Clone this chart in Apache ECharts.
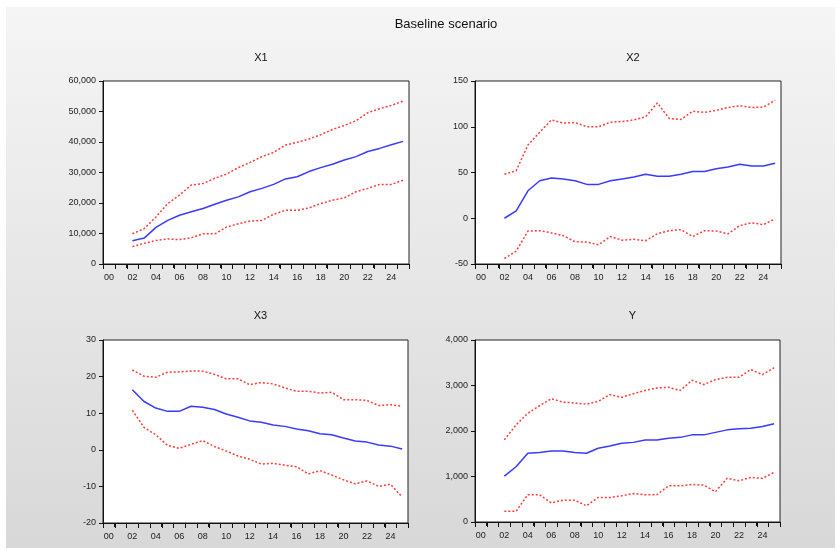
<!DOCTYPE html>
<html>
<head>
<meta charset="utf-8">
<script src="https://cdn.jsdelivr.net/npm/echarts@6/dist/echarts.min.js"></script>
<style>
html,body{margin:0;padding:0;background:#fff}
#wrap{position:relative;width:837px;height:549px}
#bg{position:absolute;left:6px;top:7px;width:829px;height:541px;background:linear-gradient(to bottom,#f5f5f5,#d8d8d8)}
#c{position:absolute;left:0;top:0;width:837px;height:549px}
</style>
</head>
<body>
<div id="wrap"><div id="bg"></div><div id="c"></div></div>
<script>
// Categories (years 2000-2025)
const years = ['00','01','02','03','04','05','06','07','08','09','10','11','12','13','14','15','16','17','18','19','20','21','22','23','24','25'];
const startIndex = 2; // data start at 02

// X1
const x1Mid   = [7600,8500,12000,14300,16000,17100,18200,19600,20900,22000,23700,24800,26100,27900,28600,30300,31600,32700,34100,35200,36900,37900,39100,40200];
const x1Upper = [9900,11600,15400,19800,22600,25900,26400,28100,29500,31600,33300,35200,36600,39000,39900,41000,42400,44100,45400,47000,49600,50900,52000,53400];
const x1Lower = [5700,6800,7700,8200,8000,8600,9900,9900,12100,13200,14100,14300,16300,17600,17600,18400,19800,20900,21700,23700,24800,26100,26100,27500];

// X2
const x2Mid   = [0,8,30,41,44,43,41,37,37,41,43,45,48,46,46,48,51,51,54,56,59,57,57,60];
const x2Upper = [48,52,80,94,107.5,104,104.6,100,100,105,105.7,107.5,111,126,109,108,117,115.6,118,121,123,121,121.5,129];
const x2Lower = [-44,-36,-14,-13.6,-16,-19,-25.7,-26,-29,-20,-24,-23,-24.6,-17,-13.6,-12.5,-20,-13.6,-14,-17,-8,-5,-7,-0.7];

// X3
const x3Mid   = [16.4,13.2,11.4,10.5,10.5,11.9,11.6,11.0,9.8,8.9,7.9,7.5,6.8,6.4,5.7,5.2,4.4,4.1,3.2,2.4,2.1,1.3,1.0,0.2];
const x3Upper = [21.8,20.1,19.8,21.2,21.3,21.5,21.5,20.6,19.4,19.4,17.8,18.4,18.0,16.9,16.0,16.0,15.5,15.7,13.7,13.7,13.5,12.1,12.3,11.9];
const x3Lower = [10.8,6.1,4.1,1.2,0.4,1.5,2.5,0.9,-0.3,-1.7,-2.6,-3.9,-3.7,-4.2,-4.6,-6.6,-5.7,-6.9,-8.2,-9.3,-8.5,-10.0,-9.4,-12.9];

// Y
const yMid   = [1009,1215,1510,1530,1560,1560,1530,1510,1620,1670,1730,1750,1800,1800,1840,1860,1915,1915,1970,2025,2050,2060,2100,2160];
const yUpper = [1805,2135,2390,2555,2710,2635,2615,2590,2650,2800,2740,2820,2890,2945,2960,2890,3115,3020,3130,3180,3180,3350,3240,3390];
const yLower = [235,235,600,600,420,480,480,355,540,540,575,625,600,600,795,795,825,810,665,960,905,980,960,1090];

const panelTitles = ['X1','X2','X3','Y'];
const yRanges = [[0,60000,10000],[-50,150,50],[-20,30,10],[0,4000,1000]];
const panelData = [[x1Mid,x1Upper,x1Lower],[x2Mid,x2Upper,x2Lower],[x3Mid,x3Upper,x3Lower],[yMid,yUpper,yLower]];

const grids = [
  {left:103, top:81, width:306, height:183},
  {left:475, top:81, width:306, height:183},
  {left:103, top:340, width:305, height:183},
  {left:475, top:340, width:305, height:182}
];

const font = 'Arial, "Liberation Sans", sans-serif';
const toPairs = arr => arr.map((v,i)=>[years[i+startIndex], v]);

const option = {
  backgroundColor:'transparent',
  animation:false,
  title:[{text:'Baseline scenario', left:441, top:13, textAlign:'center',
          textStyle:{fontSize:13, fontWeight:'normal', color:'#111', fontFamily:font}}]
    .concat(panelTitles.map((t,i)=>({
      text:t, left:grids[i].left+grids[i].width/2, top:(i<2?47:305), textAlign:'center',
      textStyle:{fontSize:11, fontWeight:'normal', color:'#111', fontFamily:font}
    }))),
  grid: grids.map(g=>Object.assign({show:true, backgroundColor:'#fff', borderColor:'#222', borderWidth:1, containLabel:false}, g)),
  xAxis: grids.map((g,i)=>({
    type:'category', gridIndex:i, data:years, boundaryGap:true,
    axisLine:{onZero:false, lineStyle:{color:'#111', width:1}},
    axisTick:{show:true, interval:0, alignWithLabel:false, length:4, lineStyle:{color:'#111', width:1}},
    axisLabel:{interval:1, fontSize:9, color:'#222', fontFamily:font, margin:9},
    splitLine:{show:false}
  })),
  yAxis: yRanges.map((r,i)=>({
    type:'value', gridIndex:i, min:r[0], max:r[1], interval:r[2],
    axisLine:{show:true, onZero:false, lineStyle:{color:'#111', width:1}},
    axisTick:{show:true, length:4, lineStyle:{color:'#111'}},
    axisLabel:{fontSize:9, color:'#222', fontFamily:font, margin:7},
    splitLine:{show:false}
  })),
  series: []
};

panelData.forEach((d,i)=>{
  option.series.push({type:'line', xAxisIndex:i, yAxisIndex:i, data:toPairs(d[1]), symbol:'none',
    lineStyle:{color:'#ff3b3b', width:1.5, type:[2,2]}, z:2});
  option.series.push({type:'line', xAxisIndex:i, yAxisIndex:i, data:toPairs(d[2]), symbol:'none',
    lineStyle:{color:'#ff3b3b', width:1.5, type:[2,2]}, z:2});
  option.series.push({type:'line', xAxisIndex:i, yAxisIndex:i, data:toPairs(d[0]), symbol:'none',
    lineStyle:{color:'#3a3aff', width:1.5}, z:3});
  // year-boundary tick marks below the x axis, placed through the category scale
  const yMin = yRanges[i][0];
  option.series.push({type:'custom', xAxisIndex:i, yAxisIndex:i, clip:false, silent:true, z:10,
    data: years.map(y=>[y, yMin]),
    renderItem:(params, api)=>{
      const k = params.dataIndex;
      const c = api.coord([k, yMin]);
      const w = api.size([1, 0])[0];
      const y0 = Math.round(c[1]);
      const xs = [c[0] - w/2];
      if (k === years.length - 1) xs.push(c[0] + w/2);
      return {type:'group', children: xs.map(x=>{
        const xx = Math.round(x) + 0.5;
        return {type:'line', shape:{x1:xx, y1:y0, x2:xx, y2:y0+5}, style:{stroke:'#111', lineWidth:1}};
      })};
    }
  });
});

const chart = echarts.init(document.getElementById('c'), null, {renderer:'canvas'});
chart.setOption(option);
</script>
</body>
</html>
